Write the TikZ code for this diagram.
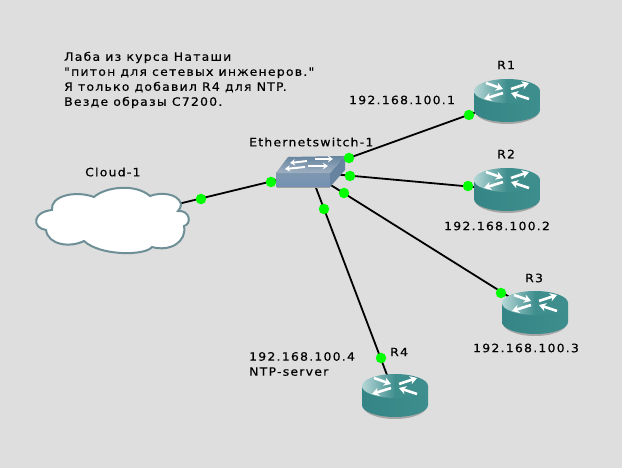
\documentclass[tikz,border=0pt]{standalone}
\usepackage{fontspec}
\setmainfont{DejaVu Sans}[Ligatures=TeXOff,LetterSpace=10.8,FakeStretch=1.08,FakeBold=0.4]
\usetikzlibrary{arrows.meta}
\definecolor{canvas}{HTML}{DEDEDE}
\definecolor{teal1}{HTML}{3F8E8E}
\definecolor{teal2}{HTML}{B5D6D6}
\definecolor{teal3}{HTML}{358586}
\definecolor{steel1}{HTML}{7391B3}
\definecolor{steel2}{HTML}{9FB0C2}
\definecolor{steel3}{HTML}{7F97B0}
\definecolor{steel4}{HTML}{66849F}
\definecolor{cloudline}{HTML}{6E8F96}
\tikzset{
	dev node/.style = {inner sep = 0pt, minimum size = 1pt},
	link/.style = {line width = 1.8pt, black},
	port/.style = {circle, fill = green, inner sep = 0pt, minimum size = 10.5pt},
	label text/.style = {inner sep = 0pt, anchor = west, align = left, font = \fontsize{11.5}{15}\selectfont},
	white arrow/.style = {white, line width = 2.6pt, -{Stealth[length=7pt,width=8.5pt]}},
	small arrow/.style = {white, line width = 2pt, -{Stealth[length=5pt,width=6.5pt]}},
	routericon/.pic = {
		\fill[gray!70] (-32,10) -- (-32,10) arc[x radius=32, y radius=13, start angle=180, end angle=0] -- cycle;
		\path[left color=teal3, right color=teal1] (-33,-10) -- (-33,9) arc[x radius=33, y radius=12, start angle=180, end angle=0] -- (33,-10) -- cycle;
		\path[left color=teal2, right color=teal1, middle color=teal1] (0,-10) ellipse[x radius=33, y radius=12];
		\draw[white arrow] (-21,-18) -- (-4,-12);
		\draw[white arrow] (4,-12) -- (22,-18);
		\draw[white arrow] (-4,-8) -- (-23,-2);
		\draw[white arrow] (22,-2) -- (4,-8);
	},
	switchicon/.pic = {
		\fill[gray!75] (-34,13) -- (20,13) -- (20,16) -- (-33,16) -- cycle;
		\path[top color=steel3, bottom color=steel1] (-34,1) rectangle (20,15);
		\fill[steel4] (20,1) -- (35,-16) -- (35,-2) -- (20,15) -- cycle;
		\path[top color=steel4, bottom color=steel2] (-34,1) -- (20,1) -- (35,-16) -- (-22,-15) -- cycle;
		\draw[small arrow] (-3,-11) -- (-20,-9);
		\draw[small arrow] (5,-13) -- (23,-13);
		\draw[small arrow] (-5,-5) -- (-25,-3);
		\draw[small arrow] (-2,-6) -- (18,-6);
	}
}
\begin{document}
\begin{tikzpicture}[x=1pt,y=-1pt]
	\useasboundingbox (0,0) rectangle (622,468);
	\fill[canvas] (0,0) rectangle (622,468);

	\node[dev node] (cloud) at (112,220) {};
	\node[dev node] (sw) at (310,172) {};
	\node[dev node] (r1) at (507,101) {};
	\node[dev node] (r2) at (507,190) {};
	\node[dev node] (r3) at (535,313) {};
	\node[dev node] (r4) at (395,396) {};

	\draw[link] (cloud) -- (sw);
	\draw[link] (sw) -- (r1);
	\draw[link] (sw) -- (r2);
	\draw[link] (sw) -- (r3);
	\draw[link] (sw) -- (r4);

	% cloud outline
	\filldraw[fill=white, draw=cloudline, line width=2pt] (52,210)
		.. controls (50,196) and (75,190) .. (94,197)
		.. controls (105,187) and (135,183) .. (150,196)
		.. controls (160,192) and (178,193) .. (181,204)
		.. controls (181,207) and (180,209) .. (178,211)
		.. controls (190,210) and (192,224) .. (184,226)
		.. controls (187,242) and (170,252) .. (152,247)
		.. controls (145,256) and (100,256) .. (84,241)
		.. controls (70,248) and (48,245) .. (46,230)
		.. controls (32,228) and (32,212) .. (52,210) -- cycle;

	\pic at (sw) {switchicon};
	\pic at (r1) {routericon};
	\pic at (r2) {routericon};
	\pic at (r3) {routericon};
	\pic at (r4) {routericon};

	\node[port] (p1) at (201,199) {};
	\node[port] (p2) at (271,182) {};
	\node[port] (p3) at (349,158) {};
	\node[port] (p4) at (469,115) {};
	\node[port] (p5) at (350,176) {};
	\node[port] (p6) at (468,186) {};
	\node[port] (p7) at (344,193) {};
	\node[port] (p8) at (501,293) {};
	\node[port] (p9) at (324,209) {};
	\node[port] (p10) at (381,358) {};

	\node[label text] (note) at (64,80) {Лаба из курса Наташи\\"питон для сетевых инженеров."\\Я только добавил R4 для NTP.\\Везде образы C7200.};
	\node[label text] (cloudname) at (85,172) {Cloud-1};
	\node[label text] (swname) at (249,142) {Ethernetswitch-1};
	\node[label text] (r1name) at (497,65) {R1};
	\node[label text] (r2name) at (497,154) {R2};
	\node[label text] (r3name) at (525,278) {R3};
	\node[label text] (r4name) at (390,352) {R4};
	\node[label text] (ip1) at (349,100) {192.168.100.1};
	\node[label text] (ip2) at (444,226) {192.168.100.2};
	\node[label text] (ip3) at (473,348) {192.168.100.3};
	\node[label text] (ip4) at (249,364) {192.168.100.4\\NTP-server};
\end{tikzpicture}
\end{document}
